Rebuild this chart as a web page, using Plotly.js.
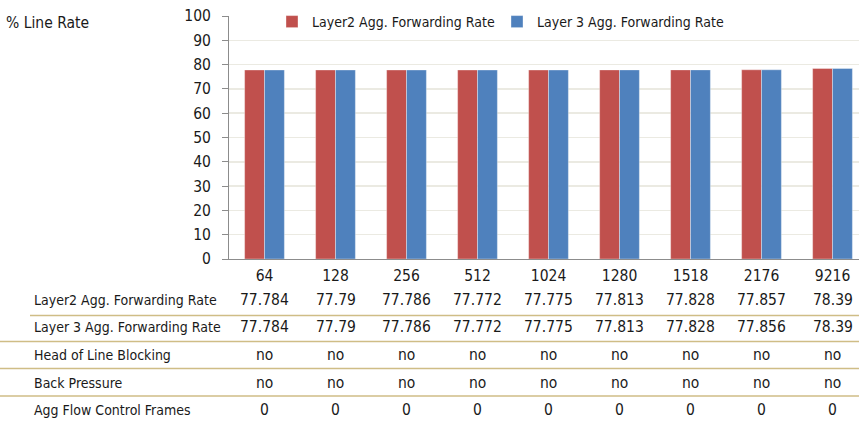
<!DOCTYPE html>
<html>
<head>
<meta charset="utf-8">
<script src="https://cdn.plot.ly/plotly-3.0.1.min.js"></script>
<style>
html,body{margin:0;padding:0;background:#fff;}
#chart{width:859px;height:421px;}
</style>
</head>
<body>
<div id="chart"></div>
<script>
const categories = ["64","128","256","512","1024","1280","1518","2176","9216"];
const layer2Rate = [77.784, 77.79, 77.786, 77.772, 77.775, 77.813, 77.828, 77.857, 78.39];
const layer3Rate = [77.784, 77.79, 77.786, 77.772, 77.775, 77.813, 77.828, 77.856, 78.39];
const headOfLine = ["no","no","no","no","no","no","no","no","no"];
const backPressure = ["no","no","no","no","no","no","no","no","no"];
const flowControl = ["0","0","0","0","0","0","0","0","0"];
const seriesNames = ["Layer2 Agg. Forwarding Rate","Layer 3 Agg. Forwarding Rate"];
const rowLabels = ["Layer2 Agg. Forwarding Rate","Layer 3 Agg. Forwarding Rate","Head of Line Blocking","Back Pressure","Agg Flow Control Frames"];
const yTicks = [0,10,20,30,40,50,60,70,80,90,100];

const FONT = "'Liberation Sans Narrow','DejaVu Sans Condensed','Arial Narrow',sans-serif";
const FS = 15.5;
const FS_LABEL = 14;
const TXT = "#1a1a1a";

const traces = [
  {type:"bar", name:seriesNames[0], x:categories, y:layer2Rate, legend:"legend",
   marker:{color:"#C0504D", line:{color:"rgba(255,255,255,0.35)", width:1}}},
  {type:"bar", name:seriesNames[1], x:categories, y:layer3Rate, legend:"legend2",
   marker:{color:"#4F81BD", line:{color:"rgba(255,255,255,0.35)", width:1}}}
];

const rows = [
  layer2Rate.map(String),
  layer3Rate.map(String),
  headOfLine, backPressure, flowControl
];
const rowY = [300, 327, 355, 383, 410];
const lineY = [315.5, 341.5, 368.5, 396];
const lineX0 = [30, 0, 0, 0];
const H = 421, mTop = 16, mBottom = 162, plotH = H - mTop - mBottom;
const mLeft = 229, plotW = 630;
function pyToPaper(py){ return (H - mBottom - py) / plotH; }
function pxToPaper(px){ return (px - mLeft) / plotW; }

const annotations = [];
annotations.push({xref:"paper", yref:"paper", x:pxToPaper(4), y:pyToPaper(23),
  xanchor:"left", yanchor:"middle", text:"% Line Rate", showarrow:false,
  font:{family:FONT, size:15.5, color:TXT}});
rowLabels.forEach((lab,i)=>{
  annotations.push({xref:"paper", yref:"paper", x:pxToPaper(32), y:pyToPaper(rowY[i]),
    xanchor:"left", yanchor:"middle", text:lab, showarrow:false,
    font:{family:FONT, size:FS_LABEL, color:TXT}});
  rows[i].forEach((v,j)=>{
    annotations.push({xref:"x", yref:"paper", x:j, y:pyToPaper(rowY[i]),
      xanchor:"center", yanchor:"middle", text:v, showarrow:false,
      font:{family:FONT, size:FS, color:TXT}});
  });
});

const shapes = lineY.map((py,i)=>({type:"line", xref:"paper", yref:"paper",
  x0:pxToPaper(lineX0[i]), x1:1,
  y0:pyToPaper(py), y1:pyToPaper(py),
  line:{color:"#cfbd86", width:1.5}}));

const legendCommon = {orientation:"h", xanchor:"left", y:pyToPaper(22), yanchor:"middle",
  bgcolor:"#fff", font:{family:FONT, size:FS_LABEL, color:TXT}};

const layout = {
  width:859, height:421,
  margin:{l:mLeft, r:0, t:mTop, b:mBottom, pad:0, autoexpand:false},
  paper_bgcolor:"#fff", plot_bgcolor:"#fff",
  font:{family:FONT, size:FS, color:TXT},
  barmode:"group", bargap:0.44, bargroupgap:0,
  showlegend:true,
  legend:Object.assign({}, legendCommon, {x:pxToPaper(272)}),
  legend2:Object.assign({}, legendCommon, {x:pxToPaper(497)}),
  xaxis:{type:"category", range:[-0.5, 8.373], showgrid:false, zeroline:false,
    showline:true, linecolor:"#8c8c8c", linewidth:1, ticks:"",
    tickfont:{family:FONT, size:FS, color:TXT}, ticklabelstandoff:2, fixedrange:true},
  yaxis:{range:[0,100], tickvals:yTicks, showgrid:true, gridcolor:"#ebeae2", gridwidth:1.5,
    zeroline:false, showline:true, linecolor:"#8c8c8c", linewidth:1,
    ticks:"outside", ticklen:6, tickcolor:"#8c8c8c",
    tickfont:{family:FONT, size:FS, color:TXT}, ticklabelstandoff:8, fixedrange:true},
  annotations:annotations,
  shapes:shapes
};

Plotly.newPlot("chart", traces, layout, {displayModeBar:false, staticPlot:true});
</script>
</body>
</html>
